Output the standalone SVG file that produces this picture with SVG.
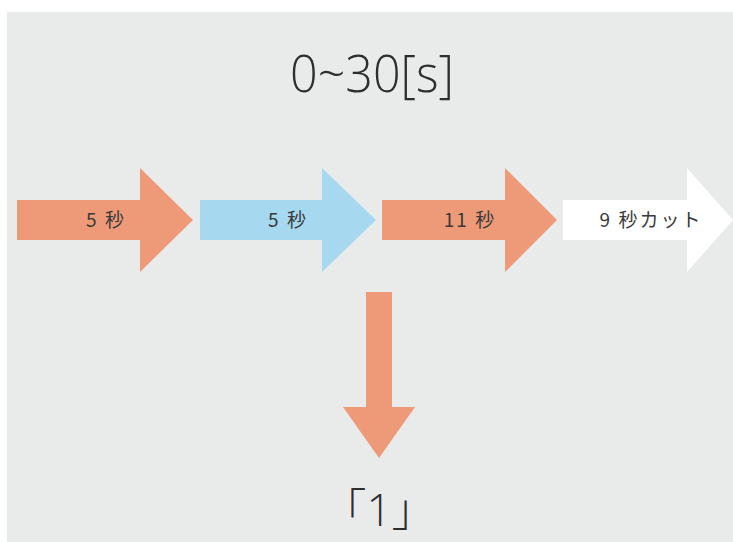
<svg xmlns="http://www.w3.org/2000/svg" width="733" height="542" viewBox="0 0 733 542">
  <style>
    .orange { fill: #ee9a79; }
    .blue { fill: #a6d8ef; }
    .white { fill: #ffffff; }
    .label { font-family: "Noto Sans CJK JP", "Noto Sans", sans-serif; font-size: 19px; fill: #3a3a3a; text-anchor: middle; letter-spacing: 2px; }
    .big { font-family: "Open Sans", "Noto Sans CJK JP", sans-serif; font-weight: 300; fill: #2e2e2e; text-anchor: middle; }
  </style>
  <rect x="0" y="0" width="733" height="542" fill="#ffffff"/>
  <rect x="7" y="12" width="726" height="530" fill="#e9eaea"/>

  <g id="title">
    <text class="big" x="372" y="92" font-size="52" textLength="164" lengthAdjust="spacingAndGlyphs">0~30[s]</text>
  </g>

  <g id="seg1">
    <path class="orange" d="M17 200 H140 V168 L193 220 L140 272 V240 H17 Z"/>
    <text class="label" x="106" y="227">5 秒</text>
  </g>
  <g id="seg2">
    <path class="blue" d="M200 200 H322 V168 L376 220 L322 272 V240 H200 Z"/>
    <text class="label" x="288" y="227">5 秒</text>
  </g>
  <g id="seg3">
    <path class="orange" d="M382 200 H505 V168 L557 220 L505 272 V240 H382 Z"/>
    <text class="label" x="470" y="227">11 秒</text>
  </g>
  <g id="seg4">
    <path class="white" d="M563 200 H687 V168 L733 220 L687 272 V240 H563 Z"/>
    <text class="label" x="651" y="227">9 秒カット</text>
  </g>

  <g id="connectors">
    <path class="orange" d="M366 292 H392 V407 H415 L379 458 L343 407 H366 Z"/>
  </g>

  <g id="result">
    <text class="big" x="379" y="526" font-size="44">「1」</text>
  </g>
</svg>
